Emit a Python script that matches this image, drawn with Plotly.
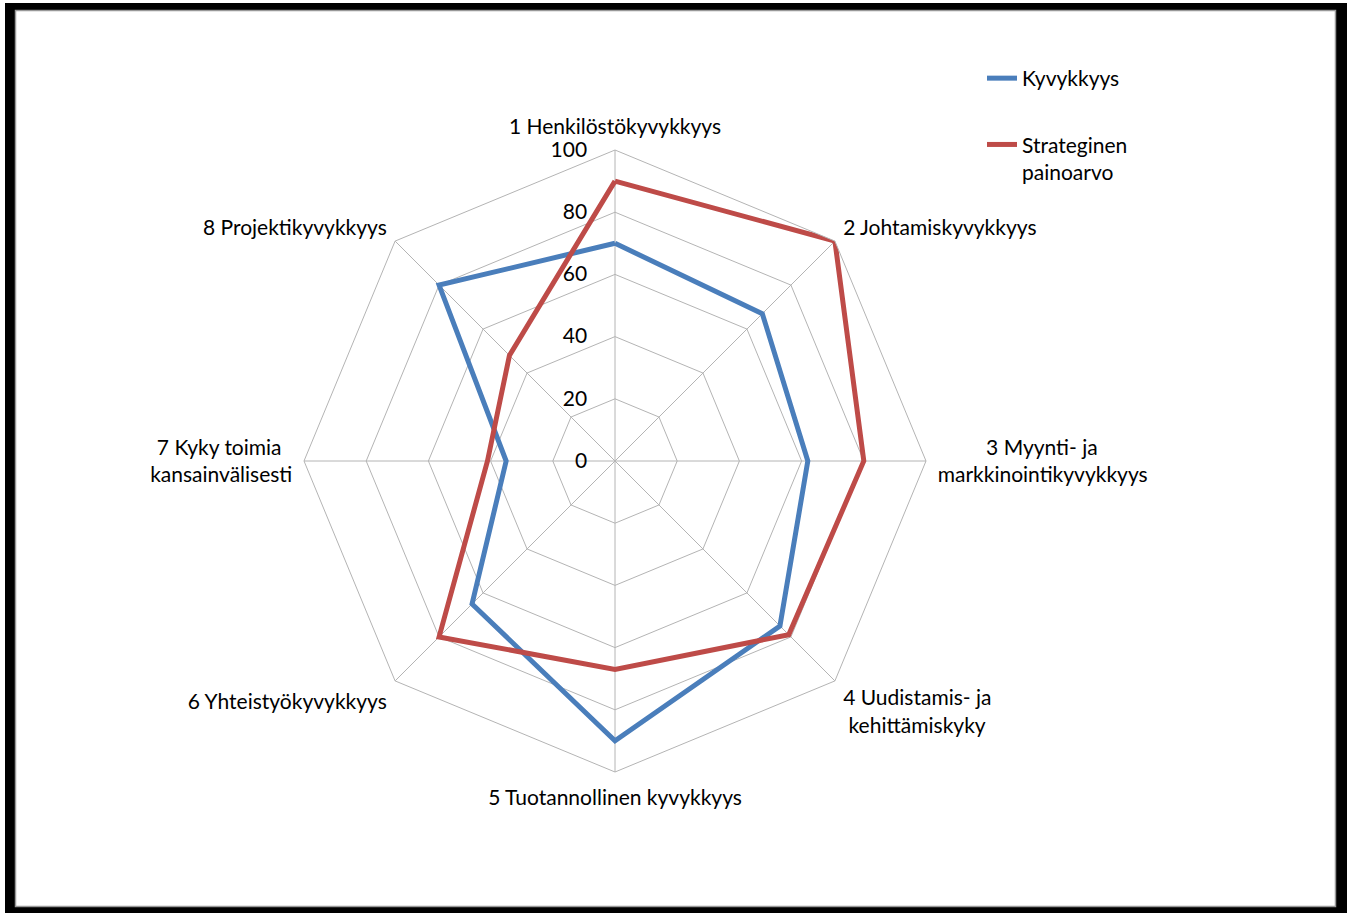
import plotly.graph_objects as go

# Capability categories (clockwise from top)
NB = "\u00a0"
categories = [
    "1 Henkilöstökyvykkyys",
    "2 Johtamiskyvykkyys",
    NB * 9 + "3 Myynti- ja<br>markkinointikyvykkyys",
    "4 Uudistamis- ja<br>" + NB + "kehittämiskyky",
    "5 Tuotannollinen kyvykkyys",
    "6 Yhteistyökyvykkyys",
    "7 Kyky toimia" + NB * 2 + "<br>kansainvälisesti",
    "8 Projektikyvykkyys",
]
kyvykkyys = [70, 67, 62, 75, 90, 65, 35, 80]
painoarvo = [90, 100, 80, 79, 67, 80, 41, 48]
radial_ticks = [0, 20, 40, 60, 80, 100]

BLUE = "#4A7EBB"
RED = "#BE4B48"
GRID = "#B4B4B4"
FONT = "Lato"
W, H = 1348, 913

fig = go.Figure()

def closed(vals):
    return vals + vals[:1]

fig.add_trace(go.Scatterpolar(
    r=closed(kyvykkyys), theta=closed(categories), mode="lines",
    name="Kyvykkyys", legendgroup="a",
    line=dict(color=BLUE, width=5),
))
fig.add_trace(go.Scatterpolar(
    r=closed(painoarvo), theta=closed(categories), mode="lines",
    name="Strateginen<br>painoarvo", legendgroup="b",
    line=dict(color=RED, width=5),
))

# frame around the picture
def box(x0, x1, y0, y1):
    return dict(type="rect", xref="paper", yref="paper",
                x0=x0 / W, x1=x1 / W, y0=1 - y1 / H, y1=1 - y0 / H,
                fillcolor="black", line_width=0)

shapes = [
    box(5, 15, 3, 913),
    box(5, 1347, 3, 10),
    box(1336, 1347, 3, 913),
    box(5, 1347, 907, 913),
    dict(type="rect", xref="paper", yref="paper",
         x0=15.5 / W, x1=1335.5 / W, y0=1 - 906.5 / H, y1=1 - 10.5 / H,
         fillcolor="rgba(0,0,0,0)", line=dict(color="#999999", width=1.5)),
]

fig.update_layout(
    width=W, height=H,
    margin=dict(l=0, r=0, t=0, b=0),
    paper_bgcolor="white",
    font=dict(family=FONT, size=21, color="black"),
    shapes=shapes,
    showlegend=True,
    legend=dict(
        x=982 / W, y=1 - 58 / H, xanchor="left", yanchor="top",
        font=dict(family=FONT, size=21, color="black"),
        tracegroupgap=36, valign="top", itemwidth=30,
        bgcolor="rgba(0,0,0,0)",
    ),
    polar=dict(
        domain=dict(x=[304 / W, 926 / W], y=[1 - 772 / H, 1 - 150 / H]),
        bgcolor="white",
        gridshape="linear",
        radialaxis=dict(
            range=[0, 100], tickvals=radial_ticks, angle=90, tickangle=90,
            side="counterclockwise", showline=False,
            ticks="outside", ticklen=20, tickcolor="rgba(0,0,0,0)",
            gridcolor=GRID, gridwidth=1,
            tickfont=dict(family=FONT, size=21, color="black"),
        ),
        angularaxis=dict(
            direction="clockwise", rotation=90,
            showline=True, linecolor=GRID, linewidth=1,
            gridcolor=GRID, gridwidth=1,
            ticks="outside", ticklen=7, tickcolor="rgba(0,0,0,0)",
            tickfont=dict(family=FONT, size=21, color="black"),
        ),
    ),
)

fig.write_html("out.html", config={"displayModeBar": False},
               post_script="document.body.style.margin='0';")
